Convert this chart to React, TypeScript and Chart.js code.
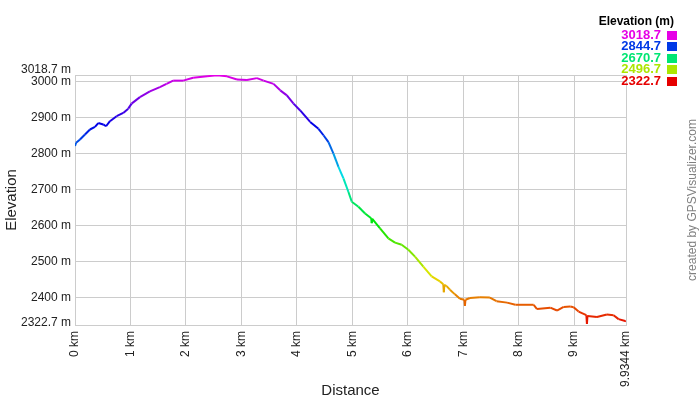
import React, { useEffect, useRef } from 'react';
import { Chart, registerables } from 'chart.js';

Chart.register(...registerables);

const distanceKm = [
  0, 0.02, 0.09, 0.18, 0.27, 0.36, 0.42, 0.51, 0.56, 0.63, 0.75, 0.87, 0.96, 1.02,
  1.17, 1.35, 1.53, 1.65, 1.77, 1.95, 2.13, 2.38, 2.56, 2.74, 2.92, 3.1, 3.28, 3.4,
  3.58, 3.7, 3.82, 3.94, 4.06, 4.24, 4.39, 4.48, 4.57, 4.66, 4.75, 4.84, 4.93, 4.99,
  5.11, 5.23, 5.34, 5.35, 5.36, 5.5, 5.65, 5.77, 5.89, 6.01, 6.13, 6.28, 6.43, 6.58,
  6.64, 6.65, 6.66, 6.7, 6.76, 6.85, 6.94, 7.02, 7.03, 7.04, 7.12, 7.3, 7.48, 7.6,
  7.79, 7.94, 8.27, 8.33, 8.57, 8.69, 8.81, 8.93, 8.99, 9.08, 9.22, 9.23, 9.24, 9.41,
  9.59, 9.71, 9.8, 9.92, 9.9344,
];

const elevationM = [
  2821, 2830, 2839, 2853, 2867, 2874, 2885, 2881, 2876, 2890, 2904, 2913, 2925, 2939,
  2957, 2973, 2985, 2994, 3003, 3003, 3011, 3015, 3018, 3015, 3006, 3005, 3010, 3003,
  2994, 2976, 2962, 2939, 2920, 2888, 2869, 2851, 2832, 2800, 2763, 2731, 2693, 2666,
  2652, 2633, 2620, 2606, 2618, 2592, 2564, 2552, 2546, 2532, 2513, 2485, 2458, 2444,
  2436, 2414, 2434, 2431, 2421, 2408, 2396, 2393, 2376, 2393, 2398, 2400, 2399, 2389,
  2385, 2379, 2379, 2367, 2371, 2363, 2373, 2374, 2372, 2360, 2350, 2326, 2348, 2345,
  2352, 2350, 2339, 2334, 2333,
];

const xTickValues = [0, 1, 2, 3, 4, 5, 6, 7, 8, 9, 9.9344];
const yTickValues = [2322.7, 2400, 2500, 2600, 2700, 2800, 2900, 3000, 3018.7];
const legendValues = [3018.7, 2844.7, 2670.7, 2496.7, 2322.7];

const yMin = 2322.7;
const yMax = 3018.7;
const xMax = 9.9344;

const FONT = '"Liberation Sans", Arial, Helvetica, sans-serif';

function colorFor(v: number): string {
  const t = Math.max(0, Math.min(1, (v - yMin) / (yMax - yMin)));
  return `hsl(${(t * 300).toFixed(1)}, 100%, 45%)`;
}

const extrasPlugin = {
  id: 'extras',
  afterDraw(chart: any) {
    const { ctx } = chart;
    const ys = chart.scales.y;
    ctx.save();
    ctx.font = `12px ${FONT}`;
    ctx.fillStyle = '#222';
    ctx.textAlign = 'right';
    ctx.textBaseline = 'middle';
    ctx.fillText(`${yMax.toFixed(1)} m`, ys.right - 4, ys.getPixelForValue(yMax) - 5);
    ctx.fillText(`${yMin.toFixed(1)} m`, ys.right - 4, ys.getPixelForValue(yMin) - 2);

    ctx.font = `bold 12px ${FONT}`;
    ctx.fillStyle = '#000';
    ctx.fillText('Elevation (m)', 674, 22);
    legendValues.forEach((v, i) => {
      const yy = 35 + i * 11.6;
      const c = colorFor(v);
      ctx.fillStyle = c;
      ctx.font = `bold 13px ${FONT}`;
      ctx.fillText(v.toFixed(1), 661, yy);
      ctx.fillRect(667, Math.round(yy - 4.5), 10, 9);
    });

    ctx.translate(693, 200);
    ctx.rotate(-Math.PI / 2);
    ctx.textAlign = 'center';
    ctx.fillStyle = '#808080';
    ctx.font = `12px ${FONT}`;
    ctx.fillText('created by GPSVisualizer.com', 0, 0);
    ctx.restore();
  },
};

export default function App() {
  const canvasRef = useRef<HTMLCanvasElement | null>(null);

  useEffect(() => {
    document.body.style.margin = '0';
    const canvas = canvasRef.current;
    if (!canvas) return;
    const data = distanceKm.map((d, i) => ({ x: d, y: elevationM[i] }));
    const chart = new Chart(canvas, {
      type: 'line',
      data: {
        datasets: [
          {
            data,
            borderWidth: 2,
            pointRadius: 0,
            tension: 0,
            borderColor: '#0040e6',
            segment: {
              borderColor: (c: any) => colorFor((c.p0.parsed.y + c.p1.parsed.y) / 2),
            },
          },
        ],
      },
      options: {
        responsive: false,
        animation: false,
        devicePixelRatio: 1,
        layout: { padding: { top: 75, right: 74, left: 0, bottom: 0 } },
        plugins: { legend: { display: false }, tooltip: { enabled: false } },
        scales: {
          x: {
            type: 'linear',
            min: 0,
            max: xMax,
            afterBuildTicks: (s: any) => {
              s.ticks = xTickValues.map((v) => ({ value: v }));
            },
            afterFit: (s: any) => {
              s.height = 75;
            },
            grid: { color: '#cccccc', drawTicks: false },
            border: { color: '#cccccc' },
            ticks: {
              autoSkip: false,
              maxRotation: 90,
              minRotation: 90,
              padding: 6,
              color: '#222',
              font: { family: FONT, size: 12 },
              callback: (v: any) => `${v} km`,
            },
            title: {
              display: true,
              text: 'Distance',
              color: '#222',
              font: { family: FONT, size: 15 },
              padding: { top: 0, bottom: 0 },
            },
          },
          y: {
            type: 'linear',
            min: yMin,
            max: yMax,
            afterBuildTicks: (s: any) => {
              s.ticks = yTickValues.map((v) => ({ value: v }));
            },
            afterFit: (s: any) => {
              s.width = 75;
            },
            grid: { color: '#cccccc', drawTicks: false },
            border: { color: '#cccccc' },
            ticks: {
              autoSkip: false,
              padding: 4,
              color: '#222',
              font: { family: FONT, size: 12 },
              callback: (v: any) => (v === yMin || v === yMax ? '' : `${v} m`),
            },
            title: {
              display: true,
              text: 'Elevation',
              color: '#222',
              font: { family: FONT, size: 15 },
              padding: { top: 3, bottom: 0 },
            },
          },
        },
      },
      plugins: [extrasPlugin],
    });
    return () => chart.destroy();
  }, []);

  return <canvas ref={canvasRef} width={700} height={400} style={{ display: 'block' }} />;
}
